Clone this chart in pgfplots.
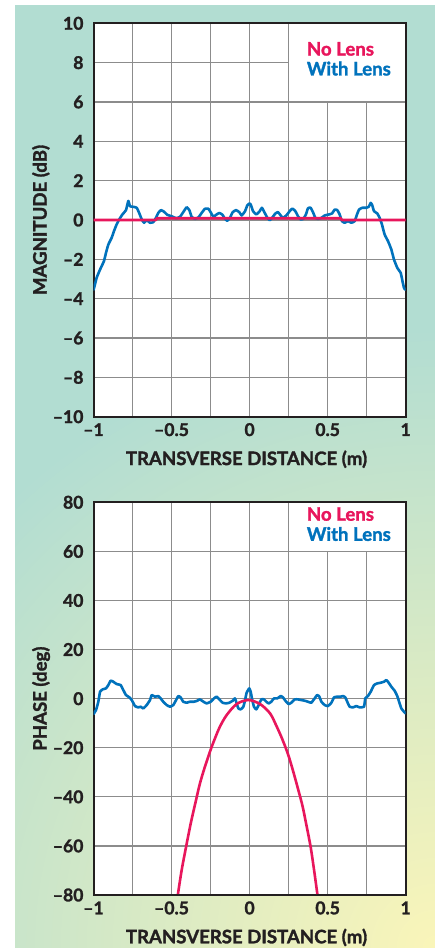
\documentclass[border=0pt]{standalone}
\usepackage{fontspec}
\setmainfont{Lato}[BoldFeatures={FakeBold=1.6}]
\usepackage{pgfplots}
\pgfplotsset{compat=1.18}

\definecolor{nolens}{RGB}{232,22,92}
\definecolor{withlens}{RGB}{0,114,188}
\definecolor{panelteal}{RGB}{178,221,210}
\definecolor{panelyellow}{RGB}{250,245,185}
\definecolor{gridgray}{RGB}{140,140,140}
\definecolor{inkdark}{RGB}{35,31,32}

\newcommand\labelfont{\fontsize{18.6}{22}\selectfont\bfseries}
\newcommand\tickfont{\fontsize{17.6}{21}\selectfont\bfseries}

\tikzset{keytext/.style={anchor=base west, inner sep=0pt, font=\labelfont}}

\pgfplotsset{
  fieldplot/.style={
    width=312.2pt, height=393.4pt, scale only axis,
    axis background/.style={fill=white},
    xmin=-1, xmax=1,
    xtick={-1,-0.5,0,0.5,1},
    xticklabels={–1,–0.5,0,0.5,1},
    minor xtick={-0.75,-0.25,0.25,0.75},
    grid=both,
    major grid style={gridgray, line width=1.2pt},
    minor grid style={gridgray, line width=1.2pt},
    axis line style={line width=2pt, inkdark},
    major tick length=0pt, minor tick length=0pt,
    tick style={draw=none},
    xticklabel style={anchor=base, yshift=-19.3pt, text=inkdark, font=\tickfont},
    yticklabel style={anchor=east, xshift=-6.5pt, text=inkdark, font=\tickfont},
    xlabel style={at={(axis description cs:0.49,-0.123)}, anchor=base, text=inkdark, font=\labelfont},
    ylabel style={at={(axis description cs:-0.150,0.5)}, anchor=base, text=inkdark, font=\labelfont},
    xlabel={TRANSVERSE DISTANCE (m)},
    clip=true,
  },
  lens/.style={withlens, line width=2.6pt, line join=round, line cap=round, smooth, tension=0.25},
  nolensline/.style={nolens, line width=2.6pt, line join=round},
}

\begin{document}
\begin{tikzpicture}[x=1pt, y=1pt]
  \path[use as bounding box, fill=white] (0,0) rectangle (435,948);
  % page panel: teal fading to pale yellow towards the lower right
  \begin{scope}
    \clip (15,0) rectangle (435,943);
    \fill[panelteal] (15,0) rectangle (435,943);
    \shade[inner color=panelyellow, outer color=panelteal] (435,0) circle (620pt);
  \end{scope}

  % magnitude
  \begin{axis}[fieldplot,
      at={(93.5pt,531.3pt)}, anchor=south west,
      ymin=-10, ymax=10,
      ytick={-10,-8,...,10},
      yticklabels={–10,–8,–6,–4,–2,0,2,4,6,8,10},
      ylabel={MAGNITUDE (dB)}]
    \fill[white] (axis cs:0.254,6.03) rectangle (axis cs:0.9936,9.95);
    \addplot[lens] coordinates {
      (-1.000,-3.55) (-0.997,-3.48) (-0.980,-2.94) (-0.958,-2.52) (-0.933,-2.09)
      (-0.920,-1.67) (-0.905,-1.25) (-0.884,-0.91) (-0.869,-0.57) (-0.852,-0.23)
      (-0.835,0.03) (-0.815,0.28) (-0.792,0.50) (-0.777,0.97) (-0.766,0.70)
      (-0.745,0.67) (-0.723,0.62) (-0.706,0.33) (-0.691,0.03) (-0.676,-0.14)
      (-0.659,-0.01) (-0.638,-0.14) (-0.617,-0.11) (-0.600,0.11) (-0.585,0.36)
      (-0.568,0.50) (-0.548,0.42) (-0.527,0.26) (-0.499,0.19) (-0.471,0.09)
      (-0.446,0.16) (-0.425,0.40) (-0.403,0.65) (-0.386,0.50) (-0.371,0.16)
      (-0.350,0.06) (-0.328,0.13) (-0.307,0.36) (-0.286,0.57) (-0.264,0.57)
      (-0.247,0.36) (-0.232,0.16) (-0.215,0.26) (-0.194,0.36) (-0.173,0.26)
      (-0.158,0.06) (-0.143,-0.04) (-0.126,0.11) (-0.108,0.40) (-0.087,0.50)
      (-0.066,0.40) (-0.051,0.23) (-0.029,0.45) (-0.015,0.74) (0.000,0.84)
      (0.007,0.79) (0.022,0.45) (0.043,0.28) (0.065,0.45) (0.079,0.62)
      (0.097,0.36) (0.114,0.11) (0.129,-0.01) (0.144,0.11) (0.165,0.33)
      (0.182,0.40) (0.199,0.23) (0.214,0.11) (0.235,0.23) (0.257,0.45)
      (0.274,0.58) (0.293,0.45) (0.310,0.19) (0.327,0.03) (0.344,0.06)
      (0.361,0.28) (0.374,0.60) (0.391,0.62) (0.406,0.40) (0.421,0.11)
      (0.438,0.06) (0.460,0.11) (0.481,0.23) (0.507,0.28) (0.528,0.33)
      (0.545,0.53) (0.562,0.50) (0.577,0.28) (0.592,-0.06) (0.609,-0.14)
      (0.630,-0.06) (0.652,-0.14) (0.673,-0.06) (0.688,0.28) (0.701,0.53)
      (0.722,0.62) (0.748,0.62) (0.763,0.67) (0.776,0.87) (0.786,0.74)
      (0.797,0.45) (0.818,0.33) (0.833,0.11) (0.848,-0.23) (0.865,-0.74)
      (0.887,-1.08) (0.908,-1.50) (0.925,-2.01) (0.946,-2.43) (0.968,-2.69)
      (0.978,-3.06) (0.989,-3.45) (0.998,-3.55)
    };
    \addplot[nolensline] coordinates {
      (-1,0) (-0.600,0) (-0.594,0.09) (0.584,0.09) (0.590,0) (1,0)
    };
    \node[keytext, text=nolens] at (axis cs:0.366,8.36) {No Lens};
    \node[keytext, text=withlens] at (axis cs:0.366,7.35) {With Lens};
  \end{axis}

  % phase
  \begin{axis}[fieldplot,
      at={(93.5pt,53pt)}, anchor=south west,
      height=392.7pt,
      ymin=-80, ymax=80,
      ytick={-80,-60,...,80},
      yticklabels={–80,–60,–40,–20,0,20,40,60,80},
      ylabel={PHASE (deg)}]
    \fill[white] (axis cs:0.254,60.25) rectangle (axis cs:0.9936,79.6);
    \addplot[lens] coordinates {
      (-1.000,-6.28) (-0.984,-4.65) (-0.969,-1.25) (-0.958,2.83) (-0.941,3.78)
      (-0.920,4.18) (-0.905,5.54) (-0.890,7.31) (-0.873,6.90) (-0.852,5.95)
      (-0.826,5.54) (-0.809,3.50) (-0.792,1.47) (-0.770,0.52) (-0.755,-0.57)
      (-0.734,-3.02) (-0.713,-3.56) (-0.698,-3.29) (-0.681,-3.97) (-0.659,-2.61)
      (-0.638,-0.57) (-0.627,1.47) (-0.606,0.79) (-0.585,1.06) (-0.570,0.11)
      (-0.553,-1.25) (-0.531,-2.61) (-0.510,-3.29) (-0.489,-2.61) (-0.471,-0.57)
      (-0.457,1.06) (-0.442,0.52) (-0.425,-1.25) (-0.403,-1.66) (-0.382,-1.25)
      (-0.356,-1.25) (-0.335,-0.84) (-0.318,-0.30) (-0.296,-1.25) (-0.275,-1.93)
      (-0.249,-1.25) (-0.228,0.11) (-0.211,0.79) (-0.194,-0.30) (-0.173,-1.66)
      (-0.151,-1.93) (-0.130,-1.66) (-0.108,-0.84) (-0.094,0.11) (-0.083,-1.93)
      (-0.072,-3.97) (-0.057,-4.37) (-0.040,-3.29) (-0.029,-0.57) (-0.019,2.42)
      (-0.002,4.18) (0.007,2.83) (0.015,0.11) (0.028,-3.29) (0.043,-4.37)
      (0.058,-2.61) (0.075,-0.30) (0.092,-0.30) (0.107,-1.25) (0.122,-1.93)
      (0.139,-1.25) (0.156,0.11) (0.178,0.11) (0.199,1.06) (0.214,0.52)
      (0.229,-0.84) (0.250,-2.20) (0.267,-1.66) (0.289,-0.30) (0.310,-0.30)
      (0.331,-0.57) (0.353,-0.84) (0.374,-1.25) (0.395,-1.66) (0.417,0.11)
      (0.432,1.47) (0.445,1.06) (0.460,-1.25) (0.481,-2.61) (0.502,-3.02)
      (0.524,-1.66) (0.541,0.52) (0.562,0.79) (0.583,0.79) (0.598,1.06)
      (0.613,0.52) (0.630,-1.93) (0.641,-3.29) (0.662,-3.56) (0.684,-3.02)
      (0.705,-3.56) (0.733,-3.29) (0.741,0.11) (0.758,1.06) (0.776,2.83)
      (0.797,5.54) (0.818,6.22) (0.840,6.49) (0.861,6.90) (0.876,7.58)
      (0.891,6.49) (0.908,4.86) (0.929,3.23) (0.946,1.06) (0.961,-1.93)
      (0.972,-3.97) (0.989,-5.32) (0.998,-6.00)
    };
    \addplot[nolensline, smooth] coordinates {
      (-0.459,-79.6) (-0.435,-69.8) (-0.407,-60.4) (-0.377,-50.8) (-0.343,-41.3)
      (-0.318,-34.5) (-0.286,-27.7) (-0.250,-20.9) (-0.222,-16.2) (-0.190,-11.4)
      (-0.147,-6.7) (-0.083,-2.2) (-0.008,-0.57) (0.067,-2.2) (0.131,-6.0)
      (0.174,-11.4) (0.212,-16.9) (0.248,-23.0) (0.280,-29.8) (0.312,-37.2)
      (0.340,-44.0) (0.366,-52.2) (0.391,-60.4) (0.413,-69.8) (0.434,-79.6)
    };
    \node[keytext, text=nolens] at (axis cs:0.366,72.5) {No Lens};
    \node[keytext, text=withlens] at (axis cs:0.366,64.3) {With Lens};
  \end{axis}
\end{tikzpicture}
\end{document}
